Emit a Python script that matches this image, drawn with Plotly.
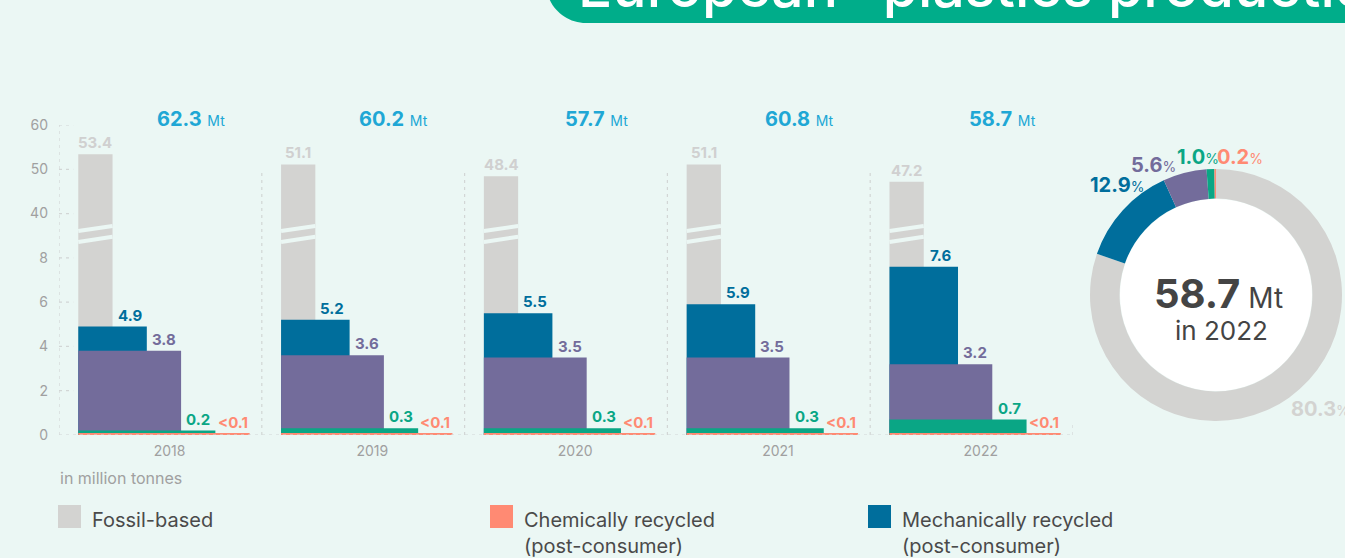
import plotly.graph_objects as go

# ---------------- data ----------------
years = ["2018", "2019", "2020", "2021", "2022"]
totals = [62.3, 60.2, 57.7, 60.8, 58.7]
fossil_based = [53.4, 51.1, 48.4, 51.1, 47.2]
mech_post_consumer = [4.9, 5.2, 5.5, 5.9, 7.6]
mech_pre_consumer = [3.8, 3.6, 3.5, 3.5, 3.2]
bio_based = [0.2, 0.3, 0.3, 0.3, 0.7]
chem_post_consumer = [0.05, 0.05, 0.05, 0.05, 0.05]
chem_labels = ["<0.1", "<0.1", "<0.1", "<0.1", "<0.1"]

share_names = ["Fossil-based", "Mechanically recycled (post-consumer)",
               "Mechanically recycled (pre-consumer)", "Bio-based",
               "Chemically recycled (post-consumer)"]
share_2022 = [80.3, 12.9, 5.6, 1.0, 0.2]
total_2022 = 58.7

y_ticks = [0, 2, 4, 6, 8, 40, 50, 60]

# ---------------- style ----------------
BG = "#ebf7f4"
C_FOSSIL = "#d3d3d1"
C_MECH = "#006e9c"
C_PURPLE = "#736c9b"
C_GREEN = "#0aa685"
C_CHEM = "#ff8a73"
C_TOTAL = "#20a7d5"
C_TITLE = "#00ad8a"
C_AXIS = "#a0a0a0"
C_GRID = "#d2d6d5"
FONT = "Inter"

W_PX, H_PX = 1345, 558
def px_x(x):
    return x / W_PX
def px_y(y):
    return 1 - y / H_PX

# broken axis: 0-8 linear, 40-60 compressed above
def ty(v):
    return v if v <= 8 else 10 + (v - 40) / 5.0

STEP = 0.169
LEFT = -0.405

fig = go.Figure()

series = [
    ("Fossil-based", fossil_based, C_FOSSIL, "#d0d0d0"),
    ("Mechanically recycled (post-consumer)", mech_post_consumer, C_MECH, C_MECH),
    ("Mechanically recycled (pre-consumer)", mech_pre_consumer, C_PURPLE, C_PURPLE),
    ("Bio-based", bio_based, C_GREEN, C_GREEN),
    ("Chemically recycled (post-consumer)", chem_post_consumer, C_CHEM, C_CHEM),
]
xs = list(range(len(years)))
annotations = []
for k, (name, vals, col, lcol) in enumerate(series):
    fig.add_trace(go.Bar(
        x=xs, y=[ty(v) for v in vals], width=(k + 1) * STEP, offset=LEFT,
        marker=dict(color=col, line=dict(width=0)), name=name, showlegend=False,
        hovertemplate="%{customdata}<extra>" + name + "</extra>", customdata=vals,
    ))
    for i, v in enumerate(vals):
        lab = chem_labels[i] if k == 4 else f"{v:.1f}"
        lab = lab.replace("<", "&lt;")
        annotations.append(dict(
            x=i + LEFT + (k + 0.5) * STEP, y=ty(v), xref="x", yref="y",
            xanchor="center", yanchor="bottom", yshift=0,
            text=f"<b>{lab}</b>", showarrow=False,
            font=dict(family=FONT, size=15, color=lcol),
        ))

# totals above groups
for i, t in enumerate(totals):
    annotations.append(dict(
        x=i + 0.15, y=px_y(119), xref="x", yref="paper", showarrow=False,
        xanchor="center", yanchor="middle",
        text=f"<b>{t:.1f}</b> <span style='font-size:14px'>Mt</span>",
        font=dict(family=FONT, size=20, color=C_TOTAL),
    ))

shapes = []
# break marks on fossil bars
for i, v in enumerate(fossil_based):
    x0 = i + LEFT
    x1 = x0 + STEP
    for yl, yr in [(9.21, 9.44), (8.72, 8.95)]:
        shapes.append(dict(type="line", xref="x", yref="y", x0=x0, x1=x1,
                           y0=yl, y1=yr, line=dict(color=BG, width=4)))

# dotted grid / tick stubs
for tv in y_ticks:
    yv = ty(tv)
    x_end = 4.5 if tv == 0 else -0.5 + 0.07
    shapes.append(dict(type="line", xref="x", yref="y", x0=-0.5, x1=x_end,
                       y0=yv, y1=yv, line=dict(color=C_GRID, width=1.2, dash="3px,4px")))
shapes.append(dict(type="line", xref="x", yref="y", x0=-0.5, x1=-0.5, y0=0, y1=ty(60),
                   line=dict(color=C_GRID, width=1.2, dash="3px,4px")))
for b in [0.5, 1.5, 2.5, 3.5]:
    shapes.append(dict(type="line", xref="x", yref="y", x0=b, x1=b, y0=0, y1=ty(50),
                       line=dict(color=C_GRID, width=1.2, dash="3px,4px")))
shapes.append(dict(type="line", xref="x", yref="y", x0=4.5, x1=4.5, y0=0, y1=0.45,
                   line=dict(color=C_GRID, width=1.2, dash="3px,4px")))

# title banner (rounded lower-left corner)
R = 40
x0b, yb = 546, 23
kq = 0.5523
path = (f"M {px_x(x0b)},{px_y(-20)} L {px_x(x0b)},{px_y(yb - R)} "
        f"C {px_x(x0b)},{px_y(yb - R + kq * R)} {px_x(x0b + R - kq * R)},{px_y(yb)} {px_x(x0b + R)},{px_y(yb)} "
        f"L {px_x(1400)},{px_y(yb)} L {px_x(1400)},{px_y(-20)} Z")
shapes.append(dict(type="path", xref="paper", yref="paper", path=path,
                   fillcolor=C_TITLE, line=dict(width=0), layer="below"))
annotations.append(dict(
    x=px_x(576), y=px_y(23), xref="paper", yref="paper", xanchor="left", yanchor="bottom",
    text="European* plastics production", showarrow=False,
    font=dict(family=FONT, size=57, color="white", weight=500),
))

# unit label
annotations.append(dict(x=px_x(58), y=px_y(478), xref="paper", yref="paper",
                        xanchor="left", yanchor="middle", showarrow=False,
                        text="in million tonnes", font=dict(family=FONT, size=16, color=C_AXIS)))

# legend (manual)
legend_items = [
    (58, "Fossil-based", C_FOSSIL),
    (490, "Chemically recycled<br>(post-consumer)", C_CHEM),
    (868, "Mechanically recycled<br>(post-consumer)", C_MECH),
]
for lx, txt, col in legend_items:
    shapes.append(dict(type="rect", xref="paper", yref="paper",
                       x0=px_x(lx), x1=px_x(lx + 23), y0=px_y(528), y1=px_y(505),
                       fillcolor=col, line=dict(width=0)))
    annotations.append(dict(x=px_x(lx + 32), y=px_y(506), xref="paper", yref="paper",
                            xanchor="left", yanchor="top", align="left", showarrow=False,
                            text=txt, font=dict(family=FONT, size=20, color="#4a4a4a")))

# donut
cx, cy = 1216, 295
outer_d = 252
fig.add_trace(go.Pie(
    values=share_2022, labels=share_names, hole=0.765, sort=False,
    direction="clockwise", rotation=0, textinfo="none", textposition="none",
    showlegend=False,
    marker=dict(colors=[C_FOSSIL, C_MECH, C_PURPLE, C_GREEN, C_CHEM], line=dict(width=0)),
    domain=dict(x=[px_x(cx - outer_d / 2), min(1.0, px_x(cx + outer_d / 2))],
                y=[px_y(cy + outer_d / 2), px_y(cy - outer_d / 2)]),
))
inner_r = 96
shapes.append(dict(type="circle", xref="paper", yref="paper",
                   x0=px_x(cx - inner_r), x1=px_x(cx + inner_r),
                   y0=px_y(cy + inner_r), y1=px_y(cy - inner_r),
                   fillcolor="white", line=dict(width=0), layer="below"))
pie_label_pos = [(1320, 409), (1117, 185), (1153, 165), (1198, 157), (1240, 157)]
pie_label_col = ["#d3d3d1", C_MECH, C_PURPLE, C_GREEN, C_CHEM]
for (lx, ly), val, col in zip(pie_label_pos, share_2022, pie_label_col):
    annotations.append(dict(
        x=px_x(lx), y=px_y(ly), xref="paper", yref="paper", showarrow=False,
        xanchor="center", yanchor="middle",
        text=f"<b>{val:.1f}</b><span style='font-size:14px'>%</span>",
        font=dict(family=FONT, size=20, color=col),
    ))
annotations.append(dict(
    x=px_x(1218), y=px_y(293), xref="paper", yref="paper", showarrow=False,
    xanchor="center", yanchor="middle",
    text=f"<b>{total_2022:.1f}</b><span style='font-size:28px'> Mt</span>",
    font=dict(family=FONT, size=40, color="#444444"),
))
annotations.append(dict(
    x=px_x(1221), y=px_y(330), xref="paper", yref="paper", showarrow=False,
    xanchor="center", yanchor="middle",
    text="in 2022", font=dict(family=FONT, size=26, color="#444444"),
))

fig.update_layout(
    width=W_PX, height=H_PX, margin=dict(l=0, r=0, t=0, b=0, autoexpand=False),
    paper_bgcolor=BG, plot_bgcolor="rgba(0,0,0,0)", barmode="overlay",
    xaxis=dict(domain=[px_x(59), px_x(1073)], range=[-0.5, 4.5],
               tickvals=[i + 0.045 for i in xs], ticktext=years,
               showgrid=False, zeroline=False, showline=False, ticks="",
               tickfont=dict(family=FONT, size=14, color=C_AXIS), ticklabelstandoff=6),
    yaxis=dict(domain=[px_y(435), px_y(125)], range=[0, 14],
               tickvals=[ty(v) for v in y_ticks], ticktext=[str(v) for v in y_ticks],
               showgrid=False, zeroline=False, showline=False, ticks="",
               tickfont=dict(family=FONT, size=14, color=C_AXIS), ticklabelstandoff=10),
    shapes=shapes, annotations=annotations, hovermode="closest",
)

fig.write_html("out.html", config={"displayModeBar": False},
               post_script="document.body.style.margin='0';document.body.style.overflow='hidden';")
